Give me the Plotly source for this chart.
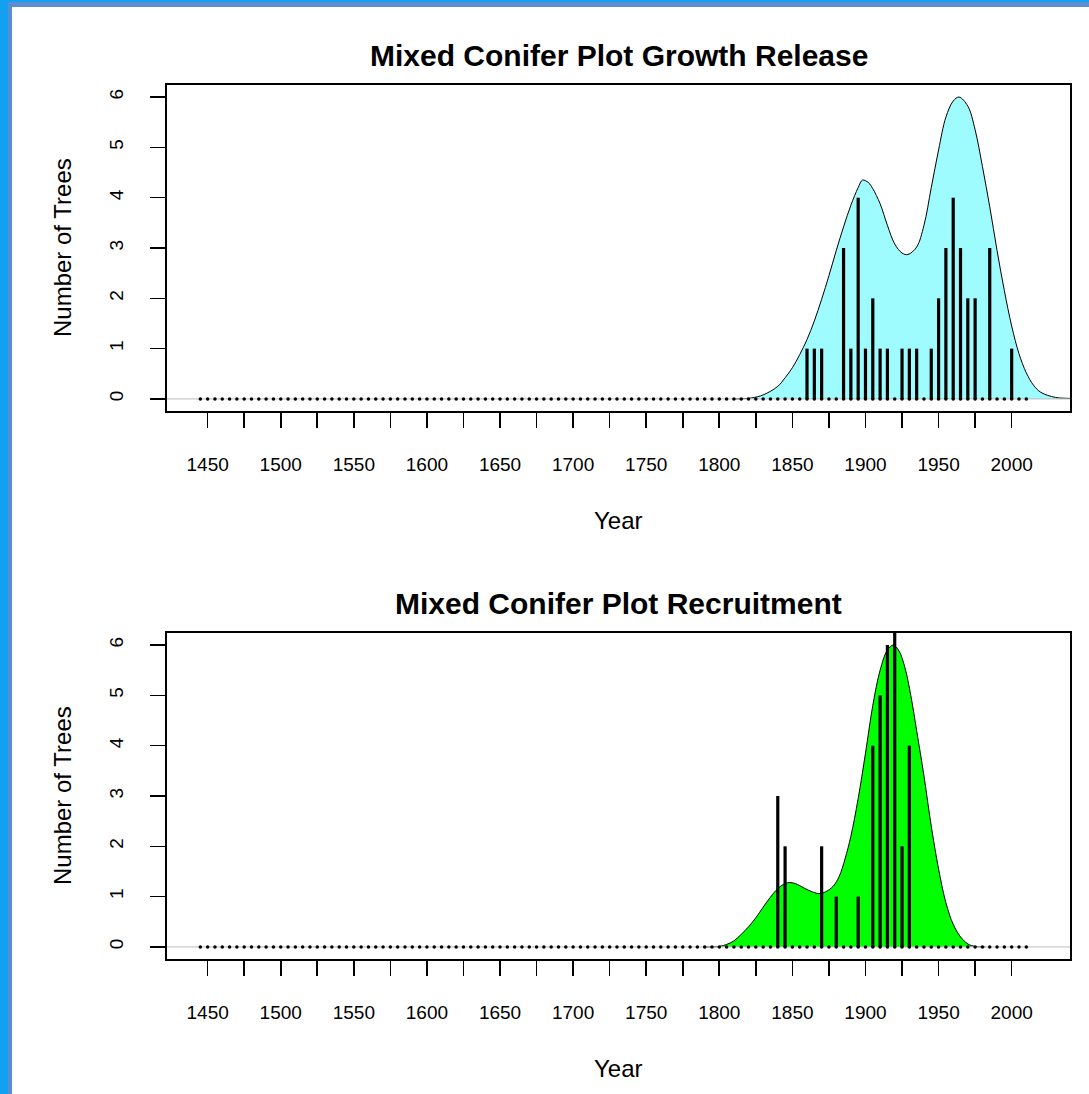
import plotly.graph_objects as go

W, H = 1089, 1094

# ---------------- data ----------------
# years sampled every 5 years (zero counts show as dots)
record_years = list(range(1445, 2015, 5))

# growth release events
release_years = [1860, 1865, 1870, 1885, 1890, 1895, 1900, 1905, 1910, 1915, 1925,
                 1930, 1935, 1945, 1950, 1955, 1960, 1965, 1970, 1975, 1985, 2000]
release_counts = [1, 1, 1, 3, 1, 4, 1, 2, 1, 1, 1,
                  1, 1, 1, 2, 3, 4, 3, 2, 2, 3, 1]

# recruitment events
recruit_years = [1840, 1845, 1870, 1880, 1895, 1905, 1910, 1915, 1920, 1925, 1930]
recruit_counts = [3, 2, 2, 1, 1, 4, 5, 6, 7, 2, 4]

# smoothed curves
release_curve_years = [1810, 1822, 1830, 1840, 1845, 1850, 1855, 1860, 1865, 1870, 1875,
                       1880, 1885, 1890, 1895, 1898, 1902, 1905, 1910, 1915, 1920, 1925,
                       1929, 1935, 1940, 1945, 1950, 1955, 1960, 1964, 1970, 1975, 1980,
                       1985, 1990, 1995, 2000, 2005, 2010, 2015, 2020, 2030, 2040, 2048]
release_curve = [0.0, 0.02, 0.08, 0.25, 0.42, 0.62, 0.88, 1.18, 1.55, 1.98, 2.45,
                 2.95, 3.42, 3.85, 4.2, 4.35, 4.3, 4.18, 3.88, 3.45, 3.08, 2.9,
                 2.87, 3.02, 3.45, 4.2, 4.95, 5.6, 5.92, 6.0, 5.82, 5.35, 4.62,
                 3.82, 2.95, 2.15, 1.45, 0.9, 0.52, 0.27, 0.13, 0.03, 0.01, 0.0]

recruit_curve_years = [1790, 1800, 1805, 1810, 1815, 1820, 1825, 1830, 1835, 1840, 1845,
                       1848, 1852, 1858, 1864, 1869, 1873, 1878, 1882, 1886, 1890, 1895,
                       1900, 1905, 1910, 1915, 1919, 1923, 1927, 1931, 1935, 1940, 1945,
                       1950, 1955, 1960, 1965, 1970, 1975, 1982]
recruit_curve = [0.0, 0.01, 0.05, 0.12, 0.25, 0.4, 0.58, 0.79, 0.99, 1.16, 1.26,
                 1.28, 1.26, 1.17, 1.09, 1.06, 1.1, 1.21, 1.4, 1.75, 2.2, 2.95,
                 3.85, 4.8, 5.5, 5.9, 6.0, 5.88, 5.55, 5.0, 4.3, 3.4, 2.4,
                 1.55, 0.88, 0.45, 0.2, 0.06, 0.01, 0.0]

titles = ["Mixed Conifer Plot Growth Release", "Mixed Conifer Plot Recruitment"]
x_title = "Year"
y_title = "Number of Trees"

x_tick_vals = list(range(1450, 2001, 25))
x_tick_text = [str(v) if v % 50 == 0 else "" for v in x_tick_vals]
y_tick_vals = [0, 1, 2, 3, 4, 5, 6]

X_RANGE = [1422.2, 2039.9]
Y_RANGE = [-0.24, 6.24]

FONT = "Liberation Sans, Arial, Helvetica, sans-serif"

# ---------------- figure ----------------
fig = go.Figure()

panels = [
    ("x", "y", release_curve_years, release_curve, "#9EFCFF", release_years, release_counts),
    ("x2", "y2", recruit_curve_years, recruit_curve, "#00FF00", recruit_years, recruit_counts),
]

for xa, ya, cy, cv, fillc, ey, ec in panels:
    fig.add_trace(go.Scatter(x=cy, y=cv, mode="lines", line=dict(color="black", width=1, shape="spline"),
                             fill="tozeroy", fillcolor=fillc, xaxis=xa, yaxis=ya,
                             hoverinfo="skip", showlegend=False))
    fig.add_trace(go.Scatter(x=X_RANGE, y=[0, 0], mode="lines", line=dict(color="#BEBEBE", width=1),
                             xaxis=xa, yaxis=ya, hoverinfo="skip", showlegend=False))
    bx, by = [], []
    for yr, c in zip(ey, ec):
        bx += [yr, yr, None]
        by += [0, c, None]
    fig.add_trace(go.Scatter(x=bx, y=by, mode="lines", line=dict(color="black", width=3.2),
                             xaxis=xa, yaxis=ya, showlegend=False))
    fig.add_trace(go.Scatter(x=record_years, y=[0] * len(record_years), mode="markers",
                             marker=dict(color="black", size=3.5), xaxis=xa, yaxis=ya,
                             showlegend=False))

# box geometry in pixels
BOX_L, BOX_R = 167, 1070
BOXES = [(85, 411), (633, 959)]


def py(p):
    return 1 - p / H


def px(p):
    return p / W


xaxis_common = dict(range=X_RANGE, tickmode="array", tickvals=x_tick_vals, ticktext=x_tick_text,
                    ticks="outside", ticklen=15, tickwidth=1.6, tickcolor="black",
                    showline=True, linecolor="black", linewidth=2, mirror=True,
                    showgrid=False, zeroline=False, tickfont=dict(family=FONT, size=19, color="black"),
                    ticklabelstandoff=20, domain=[px(BOX_L), px(BOX_R)], fixedrange=True)
yaxis_common = dict(range=Y_RANGE, tickmode="array", tickvals=y_tick_vals,
                    ticks="outside", ticklen=15, tickwidth=1.6, tickcolor="black", tickangle=-90,
                    showline=True, linecolor="black", linewidth=2, mirror=True,
                    showgrid=False, zeroline=False, tickfont=dict(family=FONT, size=19, color="black"),
                    ticklabelstandoff=19, fixedrange=True)

fig.update_layout(
    width=W, height=H, autosize=False,
    margin=dict(l=0, r=0, t=0, b=0, pad=0),
    paper_bgcolor="white", plot_bgcolor="white",
    xaxis=dict(xaxis_common, anchor="y"),
    yaxis=dict(yaxis_common, anchor="x", domain=[py(BOXES[0][1]), py(BOXES[0][0])]),
    xaxis2=dict(xaxis_common, anchor="y2"),
    yaxis2=dict(yaxis_common, anchor="x2", domain=[py(BOXES[1][1]), py(BOXES[1][0])]),
    showlegend=False,
)

annotations = []
cx = px((BOX_L + BOX_R) / 2)
for (top, bot), t in zip(BOXES, titles):
    annotations.append(dict(text=t, x=cx, y=py(top - 30), xref="paper", yref="paper",
                            xanchor="center", yanchor="middle", showarrow=False,
                            font=dict(family=FONT, size=30, color="black", weight="bold")))
    annotations.append(dict(text=x_title, x=cx, y=py(bot + 109), xref="paper", yref="paper",
                            xanchor="center", yanchor="middle", showarrow=False,
                            font=dict(family=FONT, size=24, color="black")))
    annotations.append(dict(text=y_title, x=px(62), y=py((top + bot) / 2), xref="paper", yref="paper",
                            xanchor="center", yanchor="middle", showarrow=False, textangle=-90,
                            font=dict(family=FONT, size=24, color="black")))
fig.update_layout(annotations=annotations)

# window frame (blue border on left and top)
shapes = [
    dict(type="rect", xref="paper", yref="paper", x0=0, x1=px(8), y0=0, y1=1,
         fillcolor="#14A0F0", line=dict(width=0), layer="above"),
    dict(type="rect", xref="paper", yref="paper", x0=0, x1=1, y0=py(2), y1=1,
         fillcolor="#14A0F0", line=dict(width=0), layer="above"),
    dict(type="rect", xref="paper", yref="paper", x0=px(8), x1=px(12), y0=0, y1=py(2),
         fillcolor="#5B8DD2", line=dict(width=0), layer="above"),
    dict(type="rect", xref="paper", yref="paper", x0=px(8), x1=1, y0=py(7), y1=py(2),
         fillcolor="#5B8DD2", line=dict(width=0), layer="above"),
]
fig.update_layout(shapes=shapes)

fig.write_html(
    "out.html",
    config={"displayModeBar": False, "staticPlot": True},
    post_script="document.body.style.margin='0';document.body.style.padding='0';"
                "document.body.style.overflow='hidden';",
)
